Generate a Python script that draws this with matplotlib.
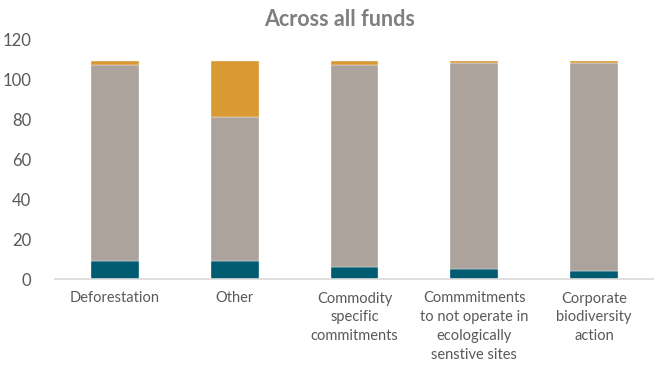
import matplotlib
matplotlib.use("Agg")
import matplotlib.pyplot as plt
import numpy as np

plt.rcParams['font.family'] = ['Lato', 'DejaVu Sans']

categories = ["Deforestation", "Other", "Commodity\nspecific\ncommitments",
              "Commmitments\nto not operate in\necologically\nsenstive sites",
              "Corporate\nbiodiversity\naction"]
teal_vals = [9, 9, 6, 5, 4]
gray_vals = [98, 72, 101, 103, 104]
orange_vals = [2, 28, 2, 1, 1]

teal = "#005a70"
gray = "#aba39c"
orange = "#d99a34"

fig = plt.figure(figsize=(6.54, 3.66), dpi=100)
ax = fig.add_axes([55 / 654, 1 - 279 / 366, 599 / 654, 240 / 366])

x = np.arange(len(categories))
w = 0.4
b1 = np.array(teal_vals)
b2 = b1 + np.array(gray_vals)
ax.bar(x, teal_vals, w, color=teal, edgecolor="white", linewidth=0.25)
ax.bar(x, gray_vals, w, bottom=b1, color=gray, edgecolor="white", linewidth=0.25)
ax.bar(x, orange_vals, w, bottom=b2, color=orange, edgecolor="white", linewidth=0.25)

ax.set_xlim(-0.5, 4.5)
ax.set_ylim(0, 120)
ax.set_yticks(range(0, 121, 20))
ax.set_xticks(x)
ax.set_xticklabels(categories, fontsize=10.5, color="#595959", linespacing=1.45)
ax.tick_params(axis="y", labelsize=12, colors="#595959", length=0, pad=17)
ax.tick_params(axis="x", length=0, pad=9)

for s in ["top", "right", "left"]:
    ax.spines[s].set_visible(False)
ax.spines["bottom"].set_color("#d9d9d9")
ax.spines["bottom"].set_linewidth(1.2)

fig.text(340 / 654, 1 - 20 / 366, "Across all funds", ha="center", va="center",
         fontsize=15.5, fontweight="bold", color="#7f7f7f")

fig.savefig("out.png", dpi=100)
